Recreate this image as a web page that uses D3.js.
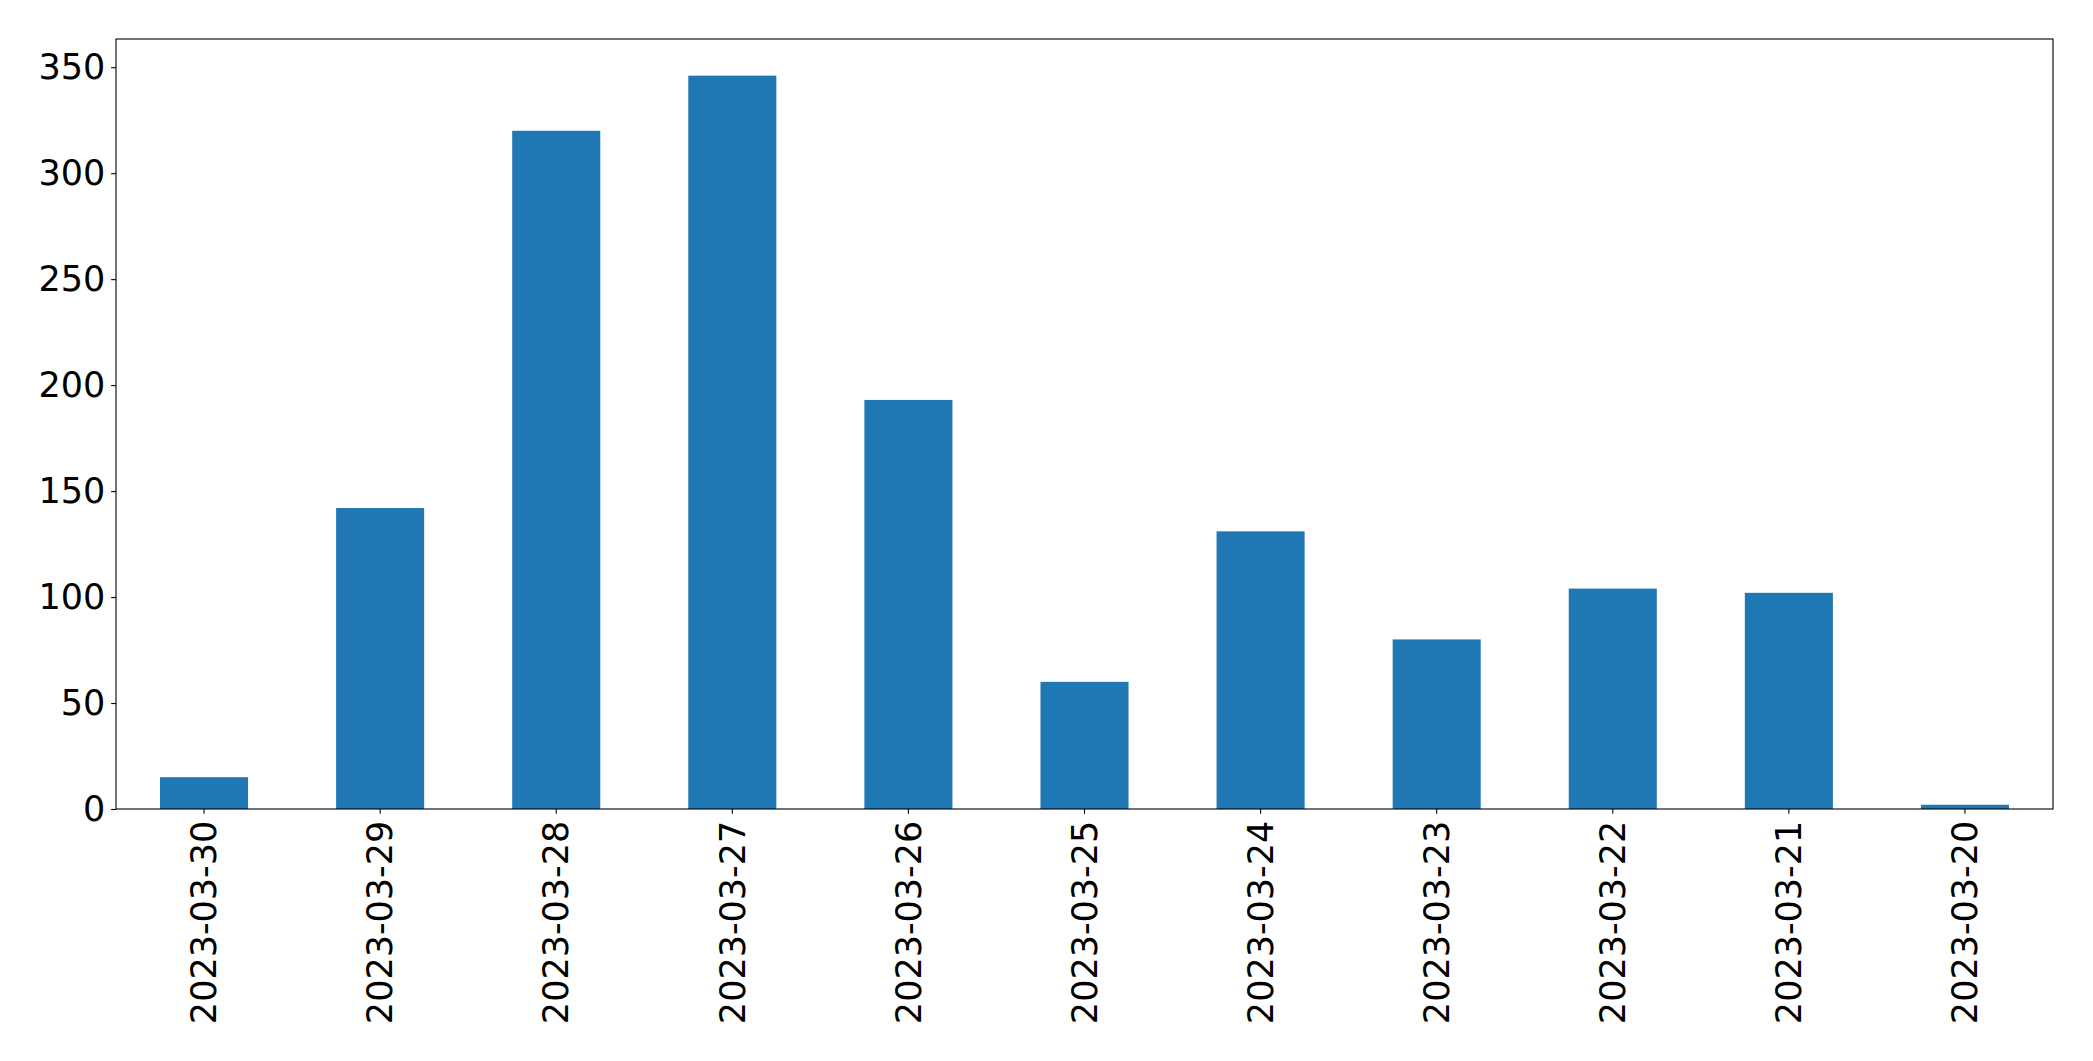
<!DOCTYPE html>
<html>
<head>
<meta charset="utf-8">
<script src="https://cdn.jsdelivr.net/npm/d3@7"></script>
<style>
  html, body { margin: 0; padding: 0; background: #ffffff; }
  svg { display: block; }
  text { font-family: "DejaVu Sans", sans-serif; }
</style>
</head>
<body>
<script>
const categories = ["2023-03-30","2023-03-29","2023-03-28","2023-03-27","2023-03-26","2023-03-25","2023-03-24","2023-03-23","2023-03-22","2023-03-21","2023-03-20"];
const values = [15, 142, 320, 346, 193, 60, 131, 80, 104, 102, 2];
const yTicks = [0, 50, 100, 150, 200, 250, 300, 350];

const W = 2093, H = 1061;
const margin = { left: 116, right: W - 2053, top: 39, bottom: H - 809 };
const iw = W - margin.left - margin.right;
const ih = H - margin.top - margin.bottom;

const svg = d3.select("body").append("svg").attr("width", W).attr("height", H);
const g = svg.append("g").attr("transform", `translate(${margin.left},${margin.top})`);

const x = d3.scaleBand().domain(categories).range([0, iw]).paddingInner(0.5).paddingOuter(0.25);
const y = d3.scaleLinear().domain([0, d3.max(values) * 1.05]).range([ih, 0]);

g.selectAll("rect.bar").data(values).join("rect")
  .attr("class", "bar")
  .attr("x", (d, i) => x(categories[i]))
  .attr("width", x.bandwidth())
  .attr("y", d => y(d))
  .attr("height", d => y(0) - y(d))
  .attr("fill", "#1f77b4");

const fs = "35px";
const tickLen = 4.86, tickPad = 4.86;

const ya = g.append("g").call(d3.axisLeft(y).tickValues(yTicks).tickSize(tickLen).tickPadding(tickPad + 1).tickFormat(d3.format("d")));
ya.select(".domain").remove();
ya.selectAll("line").attr("stroke", "#000").attr("stroke-width", 1.1);
ya.selectAll("text").attr("font-size", fs).attr("fill", "#000").attr("font-family", "DejaVu Sans");

const xa = g.append("g").attr("transform", `translate(0,${ih})`)
  .call(d3.axisBottom(x).tickSize(tickLen).tickPadding(tickPad));
xa.select(".domain").remove();
xa.selectAll("line").attr("stroke", "#000").attr("stroke-width", 1.1);
xa.selectAll("text")
  .attr("font-size", fs).attr("fill", "#000").attr("font-family", "DejaVu Sans")
  .attr("text-anchor", "end")
  .attr("dy", "0.35em")
  .attr("x", 0)
  .attr("y", 0)
  .attr("transform", `translate(0,${tickLen + tickPad + 2}) rotate(-90)`);

g.append("rect").attr("x", 0).attr("y", 0).attr("width", iw).attr("height", ih)
  .attr("fill", "none").attr("stroke", "#000").attr("stroke-width", 1.1);
</script>
</body>
</html>
